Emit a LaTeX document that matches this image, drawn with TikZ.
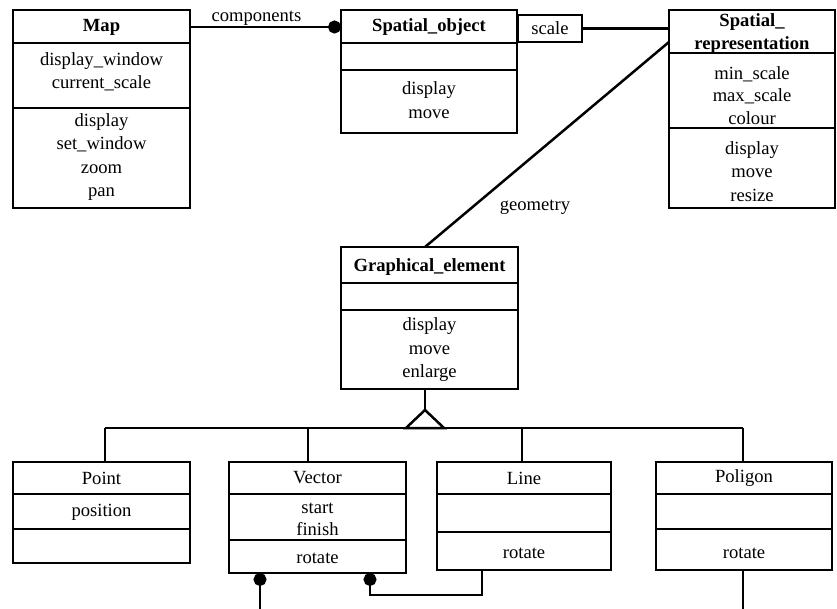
\documentclass[tikz,border=0pt]{standalone}
\usepackage{fontspec}
\setmainfont{Liberation Serif}
\usetikzlibrary{arrows.meta}

\tikzset{
  cls/.style={draw, line width=2.5pt, anchor=north west, inner sep=0pt, outer sep=0pt},
  ttl/.style={font=\fontsize{18.6}{23}\selectfont\bfseries, align=center, inner sep=0pt},
  txt/.style={font=\fontsize{18.6}{23.5}\selectfont, align=center, inner sep=0pt},
  dot/.style={{Circle[length=13pt]}-},
  link/.style={line width=2pt},
}
\newcommand{\clsline}[2]{\draw (#1.west |- 0,#2) -- (#1.east |- 0,#2);}

\begin{document}
\begin{tikzpicture}[x=1pt, y=-1pt, line width=2.5pt]
\useasboundingbox (0,0) rectangle (837,609);

% Map
\node[cls, minimum width=177pt, minimum height=198pt] (map) at (13,10) {};
\clsline{map}{43} \clsline{map}{108}
\node[ttl] (mapT) at (101.5,27) {Map};
\node[txt] (mapA) at (101.5,71.5) {display\_window\\current\_scale};
\node[txt] (mapM) at (101.5,157) {display\\set\_window\\zoom\\pan};

% Spatial_object
\node[cls, minimum width=176pt, minimum height=123pt] (sobj) at (341,10) {};
\clsline{sobj}{43} \clsline{sobj}{70}
\node[ttl] (sobjT) at (429,27) {Spatial\_object};
\node[txt] (sobjM) at (429,100) {display\\move};
\node[txt, draw, outer sep=0pt, minimum width=64pt, minimum height=27pt] (scl) at (550,28.5) {scale};

% Spatial_representation
\node[cls, minimum width=166pt, minimum height=198pt] (srep) at (669,10) {};
\clsline{srep}{53} \clsline{srep}{128}
\node[ttl] (srepT) at (752,33.5) {Spatial\_\\representation};
\node[txt, font=\fontsize{18.6}{22.5}\selectfont] (srepA) at (752,95.5) {min\_scale\\max\_scale\\colour};
\node[txt] (srepM) at (752,171.5) {display\\move\\resize};

% Graphical_element
\node[cls, minimum width=177pt, minimum height=142pt] (ge) at (341,247) {};
\clsline{ge}{283} \clsline{ge}{310}
\node[ttl] (geT) at (429.5,267) {Graphical\_element};
\node[txt] (geM) at (429.5,350) {display\\move\\enlarge};

% subclasses
\node[cls, minimum width=177pt, minimum height=101pt] (point) at (13,462) {};
\clsline{point}{494} \clsline{point}{529}
\node[txt] (pointT) at (101.5,478) {Point};
\node[txt] (pointA) at (101.5,512) {position};

\node[cls, minimum width=177pt, minimum height=111pt] (vector) at (229,462) {};
\clsline{vector}{494} \clsline{vector}{540}
\node[txt] (vectorT) at (317.5,478) {Vector};
\node[txt, font=\fontsize{18.6}{22}\selectfont] (vectorA) at (317.5,519) {start\\finish};
\node[txt] (vectorM) at (317.5,558) {rotate};

\node[cls, minimum width=174pt, minimum height=108pt] (lineC) at (437,462) {};
\clsline{lineC}{494} \clsline{lineC}{532}
\node[txt] (lineCT) at (524,478) {Line};
\node[txt] (lineCM) at (524,553) {rotate};

\node[cls, minimum width=176pt, minimum height=108pt] (poligon) at (656,462) {};
\clsline{poligon}{494} \clsline{poligon}{529}
\node[txt] (poligonT) at (744,478) {Poligon};
\node[txt] (poligonM) at (744,553) {rotate};

% associations
\draw[-{Circle[length=13pt]}] (map.east |- mapT) -- (sobj.west |- mapT)
  node[txt, pos=0.44, above=0.5pt] {components};
\draw (scl.east) -- (srep.west |- scl.east);
\draw ([yshift=-32pt]srep.north west) -- ([xshift=-4.5pt]ge.north);
\node[txt] (geoL) at (535,207) {geometry};

% inheritance
\coordinate (tri) at (425,410);
\coordinate (bar) at (425,428);
\draw ([xshift=-4.5pt]ge.south) -- (tri);
\draw[line join=miter] (tri) -- ++(-19,18) -- ++(38,0) -- cycle;
\draw ([xshift=3.5pt]point.north |- bar) -- ([xshift=-1pt]poligon.north |- bar);
\foreach \n/\dx in {point/3.5, vector/-9.5, lineC/-2, poligon/-1}
  \draw ([xshift=\dx pt]\n.north) -- ([xshift=\dx pt]\n.north |- bar);

% links below
\coordinate (vdown) at (260,609);
\coordinate (vlink) at (370,595);
\coordinate (pdown) at (743,609);
\draw[dot, link] (vector.south -| vdown) -- (vdown);
\draw[dot, link] (vector.south -| vlink) -- (vlink) -| ([xshift=-42pt]lineC.south);
\draw[link] (poligon.south -| pdown) -- (pdown);
\end{tikzpicture}
\end{document}
